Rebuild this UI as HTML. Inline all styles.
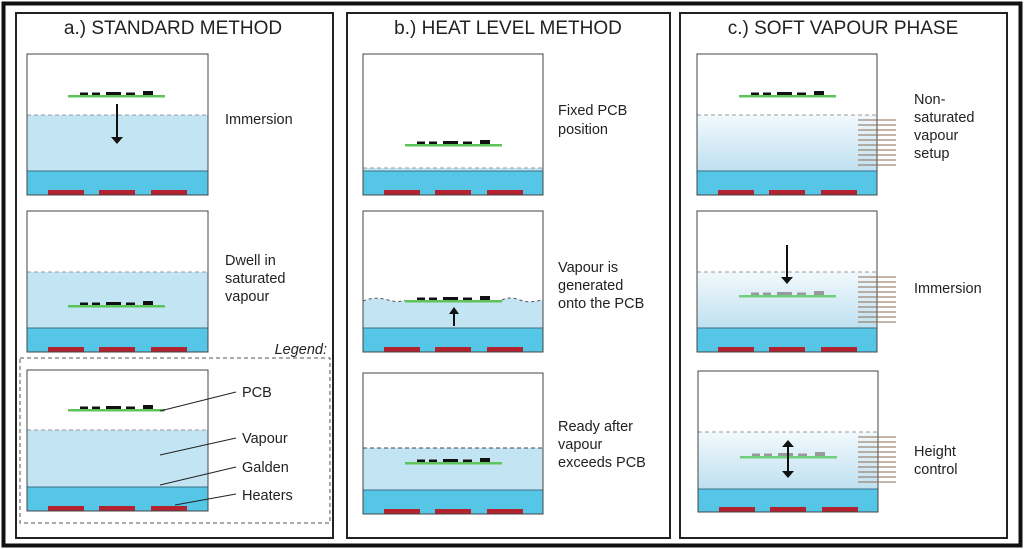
<!DOCTYPE html>
<html><head><meta charset="utf-8"><style>
html,body{margin:0;padding:0;background:#fff}
svg{display:block}
text{font-family:"Liberation Sans",Arial,sans-serif;fill:#222}
</style></head><body>
<svg width="1024" height="549" viewBox="0 0 1024 549" xmlns="http://www.w3.org/2000/svg">
<defs>
<linearGradient id="g" x1="0" y1="0" x2="0" y2="1"><stop offset="0" stop-color="#f2f9fd"/><stop offset="1" stop-color="#bfe0f0"/></linearGradient>
<g id="heat"><rect x="21" y="-5" width="36" height="5" fill="#b3222e"/><rect x="72" y="-5" width="36" height="5" fill="#b3222e"/><rect x="124" y="-5" width="36" height="5" fill="#b3222e"/></g>
<g id="pcb"><rect x="0" y="-1" width="97" height="2.5" fill="#5ec35a"/><rect x="12" y="-3.5" width="8" height="2.5" fill="#111"/><rect x="24" y="-3.5" width="8" height="2.5" fill="#111"/><rect x="38" y="-4" width="15" height="3" fill="#111"/><rect x="58" y="-3.5" width="9" height="2.5" fill="#111"/><rect x="75" y="-5" width="10" height="4" fill="#111"/></g>
<g id="pcbg"><rect x="0" y="-1" width="97" height="2.5" fill="#6fcf7a"/><rect x="12" y="-3.5" width="8" height="2.5" fill="#999"/><rect x="24" y="-3.5" width="8" height="2.5" fill="#999"/><rect x="38" y="-4" width="15" height="3" fill="#999"/><rect x="58" y="-3.5" width="9" height="2.5" fill="#999"/><rect x="75" y="-5" width="10" height="4" fill="#999"/></g>
<g id="hatch" stroke="#8b6a50" stroke-width="1"><line x1="0" y1="0" x2="38" y2="0"/><line x1="0" y1="5" x2="38" y2="5"/><line x1="0" y1="10" x2="38" y2="10"/><line x1="0" y1="15" x2="38" y2="15"/><line x1="0" y1="20" x2="38" y2="20"/><line x1="0" y1="25" x2="38" y2="25"/><line x1="0" y1="30" x2="38" y2="30"/><line x1="0" y1="35" x2="38" y2="35"/><line x1="0" y1="40" x2="38" y2="40"/><line x1="0" y1="45" x2="38" y2="45"/></g>
</defs>
<rect x="3.5" y="3.5" width="1017" height="542" fill="#fff" stroke="#111" stroke-width="4"/>
<rect x="16" y="13" width="317" height="525" fill="none" stroke="#222" stroke-width="2"/>
<rect x="347" y="13" width="323" height="525" fill="none" stroke="#222" stroke-width="2"/>
<rect x="680" y="13" width="327" height="525" fill="none" stroke="#222" stroke-width="2"/>
<text x="173" y="34" font-size="19" text-anchor="middle">a.) STANDARD METHOD</text>
<text x="508" y="34" font-size="19" text-anchor="middle">b.) HEAT LEVEL METHOD</text>
<text x="843" y="34" font-size="19" text-anchor="middle">c.) SOFT VAPOUR PHASE</text>

<!-- Panel a -->
<g>
<rect x="27" y="115" width="181" height="56" fill="#c2e4f3"/><line x1="27" y1="115" x2="208" y2="115" stroke="#999" stroke-dasharray="4,3"/>
<rect x="27" y="171" width="181" height="24" fill="#55c6e6" stroke="#3b6f86"/>
<use href="#heat" x="27" y="195"/>
<rect x="27" y="54" width="181" height="141" fill="none" stroke="#444"/>
<use href="#pcb" x="68" y="96"/>
<line x1="117" y1="104" x2="117" y2="137" stroke="#111" stroke-width="2"/><path d="M111,137 L123,137 L117,144 Z" fill="#111"/>
<text x="225" y="124" font-size="14.5">Immersion</text>
</g>
<g>
<rect x="27" y="272" width="181" height="56" fill="#c2e4f3"/><line x1="27" y1="272" x2="208" y2="272" stroke="#999" stroke-dasharray="4,3"/>
<rect x="27" y="328" width="181" height="24" fill="#55c6e6" stroke="#3b6f86"/>
<use href="#heat" x="27" y="352"/>
<rect x="27" y="211" width="181" height="141" fill="none" stroke="#444"/>
<use href="#pcb" x="68" y="306"/>
<text x="225" y="265" font-size="14.5">Dwell in</text><text x="225" y="283" font-size="14.5">saturated</text><text x="225" y="301" font-size="14.5">vapour</text>
</g>
<rect x="20" y="358" width="310" height="165" fill="none" stroke="#555" stroke-dasharray="4,3"/>
<text x="327" y="354" font-size="14.5" font-style="italic" text-anchor="end">Legend:</text>
<g>
<rect x="27" y="430" width="181" height="57" fill="#c2e4f3"/><line x1="27" y1="430" x2="208" y2="430" stroke="#999" stroke-dasharray="4,3"/>
<rect x="27" y="487" width="181" height="24" fill="#55c6e6" stroke="#3b6f86"/>
<use href="#heat" x="27" y="511"/>
<rect x="27" y="370" width="181" height="141" fill="none" stroke="#444"/>
<use href="#pcb" x="68" y="410"/>
<g stroke="#222" stroke-width="1"><line x1="160" y1="411" x2="236" y2="392"/><line x1="160" y1="455" x2="236" y2="438"/><line x1="160" y1="485" x2="236" y2="467"/><line x1="175" y1="505" x2="236" y2="494"/></g>
<text x="242" y="397" font-size="14.5">PCB</text><text x="242" y="443" font-size="14.5">Vapour</text><text x="242" y="472" font-size="14.5">Galden</text><text x="242" y="500" font-size="14.5">Heaters</text>
</g>

<!-- Panel b -->
<g>
<rect x="363" y="168" width="180" height="3" fill="#c2e4f3"/><line x1="363" y1="168" x2="543" y2="168" stroke="#999" stroke-dasharray="4,3"/>
<rect x="363" y="171" width="180" height="24" fill="#55c6e6" stroke="#3b6f86"/>
<use href="#heat" x="363" y="195"/>
<rect x="363" y="54" width="180" height="141" fill="none" stroke="#444"/>
<use href="#pcb" x="405" y="145"/>
<text x="558" y="115" font-size="14.5">Fixed PCB</text><text x="558" y="134" font-size="14.5">position</text>
</g>
<g>
<path d="M363,301 Q375,296 388,300 Q398,303 405,300 L502,300 Q510,296 520,300 Q532,304 543,299 L543,328 L363,328 Z" fill="#c2e4f3"/>
<path d="M363,301 Q375,296 388,300 Q398,303 405,300 M502,300 Q510,296 520,300 Q532,304 543,299" fill="none" stroke="#555" stroke-dasharray="3,3"/>
<rect x="363" y="328" width="180" height="24" fill="#55c6e6" stroke="#3b6f86"/>
<use href="#heat" x="363" y="352"/>
<rect x="363" y="211" width="180" height="141" fill="none" stroke="#444"/>
<use href="#pcb" x="405" y="301"/>
<line x1="454" y1="326" x2="454" y2="314" stroke="#111" stroke-width="2"/><path d="M449,314 L459,314 L454,307 Z" fill="#111"/>
<text x="558" y="272" font-size="14.5">Vapour is</text><text x="558" y="290" font-size="14.5">generated</text><text x="558" y="308" font-size="14.5">onto the PCB</text>
</g>
<g>
<rect x="363" y="448" width="180" height="42" fill="#c2e4f3"/><line x1="363" y1="448" x2="543" y2="448" stroke="#444" stroke-dasharray="4,3"/>
<rect x="363" y="490" width="180" height="24" fill="#55c6e6" stroke="#3b6f86"/>
<use href="#heat" x="363" y="514"/>
<rect x="363" y="373" width="180" height="141" fill="none" stroke="#444"/>
<use href="#pcb" x="405" y="463"/>
<text x="558" y="431" font-size="14.5">Ready after</text><text x="558" y="449" font-size="14.5">vapour</text><text x="558" y="467" font-size="14.5">exceeds PCB</text>
</g>

<!-- Panel c -->
<g>
<rect x="697" y="115" width="180" height="56" fill="url(#g)"/><line x1="697" y1="115" x2="877" y2="115" stroke="#999" stroke-dasharray="4,3"/>
<rect x="697" y="171" width="180" height="24" fill="#55c6e6" stroke="#3b6f86"/>
<use href="#heat" x="697" y="195"/>
<rect x="697" y="54" width="180" height="141" fill="none" stroke="#444"/>
<use href="#pcb" x="739" y="96"/>
<use href="#hatch" x="858" y="120"/>
<text x="914" y="104" font-size="14.5">Non-</text><text x="914" y="122" font-size="14.5">saturated</text><text x="914" y="140" font-size="14.5">vapour</text><text x="914" y="158" font-size="14.5">setup</text>
</g>
<g>
<rect x="697" y="272" width="180" height="56" fill="url(#g)"/><line x1="697" y1="272" x2="877" y2="272" stroke="#999" stroke-dasharray="4,3"/>
<rect x="697" y="328" width="180" height="24" fill="#55c6e6" stroke="#3b6f86"/>
<use href="#heat" x="697" y="352"/>
<rect x="697" y="211" width="180" height="141" fill="none" stroke="#444"/>
<use href="#pcbg" x="739" y="296"/>
<use href="#hatch" x="858" y="277"/>
<line x1="787" y1="245" x2="787" y2="277" stroke="#111" stroke-width="2"/><path d="M781,277 L793,277 L787,284 Z" fill="#111"/>
<text x="914" y="293" font-size="14.5">Immersion</text>
</g>
<g>
<rect x="698" y="432" width="180" height="57" fill="url(#g)"/><line x1="698" y1="432" x2="878" y2="432" stroke="#999" stroke-dasharray="4,3"/>
<rect x="698" y="489" width="180" height="23" fill="#55c6e6" stroke="#3b6f86"/>
<use href="#heat" x="698" y="512"/>
<rect x="698" y="371" width="180" height="141" fill="none" stroke="#444"/>
<use href="#pcbg" x="740" y="457"/>
<use href="#hatch" x="858" y="437"/>
<line x1="788" y1="446" x2="788" y2="472" stroke="#111" stroke-width="2"/><path d="M782,447 L794,447 L788,440 Z" fill="#111"/><path d="M782,471 L794,471 L788,478 Z" fill="#111"/>
<text x="914" y="456" font-size="14.5">Height</text><text x="914" y="474" font-size="14.5">control</text>
</g>
</svg>
</body></html>
